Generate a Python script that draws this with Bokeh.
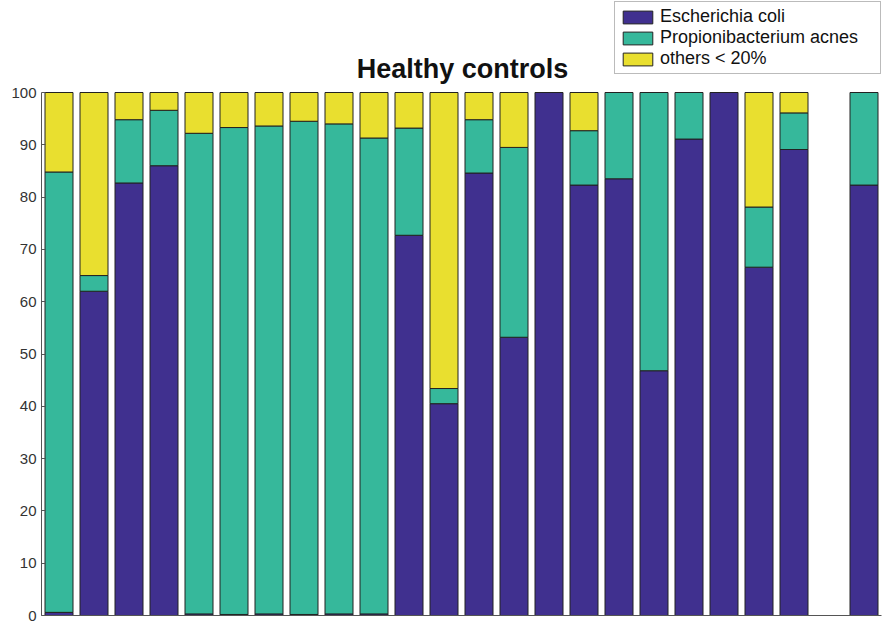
from bokeh.plotting import figure
from bokeh.models import ColumnDataSource, Legend, LegendItem, FixedTicker, Range1d, Label
from bokeh.embed import file_html
from bokeh.resources import INLINE
import numpy as np

samples = list(range(1, 25))
ecoli = [0.6, 62.0, 82.7, 86.0, 0.3, 0.2, 0.3, 0.2, 0.3, 0.3, 72.7, 40.5,
         84.6, 53.2, 100.0, 82.3, 83.5, 46.8, 91.1, 100.0, 66.6, 89.1, None, 82.3]
pacnes = [84.2, 3.0, 12.1, 10.6, 91.9, 93.1, 93.3, 94.3, 93.7, 91.0, 20.5, 2.9,
          10.2, 36.3, 0.0, 10.4, 16.5, 53.2, 8.9, 0.0, 11.5, 7.0, None, 17.7]
others = [15.2, 35.0, 5.2, 3.4, 7.8, 6.7, 6.4, 5.5, 6.0, 8.7, 6.8, 56.6,
          5.2, 10.5, 0.0, 7.3, 0.0, 0.0, 0.0, 0.0, 21.9, 3.9, None, 0.0]
series = ["Escherichia coli", "Propionibacterium acnes", "others < 20%"]
colors = ["#40308f", "#36b89b", "#e9df2f"]
y_ticks = [0, 10, 20, 30, 40, 50, 60, 70, 80, 90, 100]
title_text = "Healthy controls"

def clean(v):
    return [np.nan if a is None else a for a in v]

src = ColumnDataSource(dict(x=samples, e=clean(ecoli), p=clean(pacnes), o=clean(others)))

FRAME_H = 615
PX_PER_100 = 523
p = figure(width=883, height=621, output_backend="svg", toolbar_location=None,
           x_range=Range1d(0.5, 24.5), y_range=Range1d(0, 100 * FRAME_H / PX_PER_100),
           min_border_left=41, min_border_right=2, min_border_top=0, min_border_bottom=4)

rs = p.vbar_stack(["e", "p", "o"], x="x", width=0.8, source=src, color=colors,
                  line_color="#222222", line_width=1)

p.xgrid.visible = False
p.ygrid.visible = False
p.outline_line_color = None

p.yaxis.bounds = (0, 100)
p.yaxis.ticker = FixedTicker(ticks=y_ticks)
p.yaxis.major_label_text_font = "Liberation Sans"
p.yaxis.major_label_text_font_size = "15px"
p.yaxis.major_label_text_color = "#333333"
p.yaxis.major_tick_in = 4
p.yaxis.major_tick_out = 0
p.yaxis.minor_tick_line_color = None
p.yaxis.axis_line_color = "#555555"
p.yaxis.major_tick_line_color = "#555555"
p.yaxis.major_label_standoff = 5

p.xaxis.major_tick_line_color = None
p.xaxis.minor_tick_line_color = None
p.xaxis.major_label_text_font_size = "0px"
p.xaxis.axis_line_color = "#555555"

title = Label(x=421, y=FRAME_H - 68, x_units="screen", y_units="screen", text=title_text,
              text_font="Liberation Sans", text_font_size="27px", text_font_style="bold",
              text_color="#111111", text_align="center", text_baseline="alphabetic")
p.add_layout(title)

items = [LegendItem(label=series[i], renderers=[rs[i]]) for i in range(3)]
legend = Legend(items=items, location=(573, FRAME_H - 74), orientation="vertical",
                label_text_font="Liberation Sans", label_text_font_size="18px",
                label_text_color="#111111", glyph_width=37, glyph_height=16,
                spacing=0, padding=4, margin=0, label_standoff=4,
                label_height=21, label_width=216,
                border_line_color="#777777", border_line_width=1.5,
                background_fill_color="white", background_fill_alpha=1)
p.add_layout(legend, "center")

open("out.html", "w").write(file_html(p, INLINE))
